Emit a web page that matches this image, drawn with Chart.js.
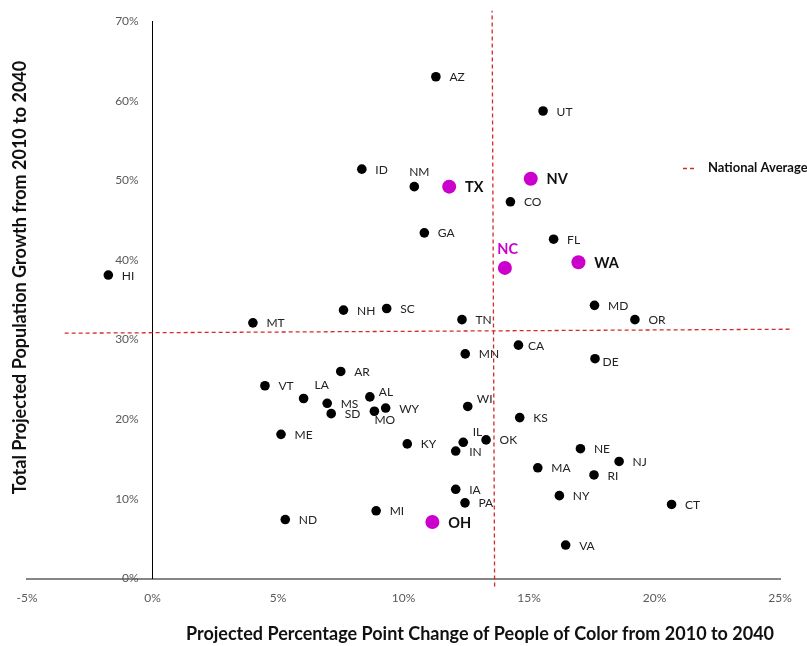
<!DOCTYPE html>
<html><head><meta charset="utf-8">
<script src="https://cdn.jsdelivr.net/npm/chart.js@4"></script>
<style>html,body{margin:0;padding:0;background:#fff}canvas{display:block}</style>
</head><body>
<canvas id="c" width="807" height="646"></canvas>
<script>
// ---- DATA ----
const states = ['AZ','UT','ID','NM','TX','NV','CO','GA','FL','NC','WA','HI','MD','OR','NH','SC','MT','TN','CA','MN','DE','AR','VT','LA','AL','MS','SD','MO','WY','WI','KS','ME','KY','IL','OK','IN','NE','NJ','MA','RI','IA','NY','PA','CT','MI','ND','OH','VA'];
// Projected percentage point change of people of color 2010-2040 (%)
const peopleOfColorChange = [11.29,15.56,8.34,10.43,11.82,15.07,14.26,10.83,15.98,14.04,16.97,-1.76,17.61,19.22,7.61,9.33,4.0,12.33,14.58,12.46,17.63,7.50,4.48,6.02,8.66,6.96,7.12,8.84,9.29,12.56,14.63,5.12,10.15,12.38,13.29,12.08,17.05,18.59,15.35,17.59,12.08,16.21,12.45,20.68,8.91,5.29,11.15,16.46];
// Total projected population growth 2010-2040 (%)
const populationGrowth = [63.0,58.7,51.4,49.2,49.2,50.2,47.3,43.4,42.6,39.0,39.7,38.1,34.3,32.5,33.7,33.9,32.1,32.5,29.3,28.2,27.6,26.0,24.2,22.6,22.8,22.0,20.7,21.0,21.4,21.6,20.2,18.1,16.9,17.1,17.4,16.0,16.3,14.7,13.9,13.0,11.2,10.4,9.5,9.3,8.5,7.4,7.1,4.2];
const highlightStates = ['TX','NV','NC','WA','OH'];
const xTickValues = [-5,0,5,10,15,20,25];
const yTickValues = [0,10,20,30,40,50,60,70];
// National average reference lines (endpoints)
const natAvgVerticalX = [13.63,13.53];
const natAvgVerticalY = [-1.0,71.3];
const natAvgHorizontalX = [-3.5,25.4];
const natAvgHorizontalY = [30.8,31.3];
const xTitle = 'Projected Percentage Point Change of People of Color from 2010 to 2040';
const yTitle = 'Total Projected Population Growth from 2010 to 2040';
const legendLabel = 'National Average';

// ---- STYLE ----
const FONT = 'Lato, "Open Sans", sans-serif';
const MAGENTA = '#cc00cc';
const RED = '#d42a2a';
const labelPlacement = {
  NM:{dx:5,dy:-15,align:'center'},
  LA:{dx:11,dy:-13},
  AL:{dx:9,dy:-4.5},
  MO:{dx:0,dy:9},
  WI:{dx:9,dy:-7},
  IL:{dx:9.4,dy:-10.6},
  DE:{dx:7.6,dy:3.7},
  CA:{dx:9.6,dy:0.7},
  NC:{dx:2.7,dy:-18.7,align:'center'}
};

function pts(filterFn){
  const out = [];
  states.forEach((s,i)=>{ if(filterFn(s)) out.push({x:peopleOfColorChange[i], y:populationGrowth[i], s}); });
  return out;
}
const normalPts = pts(s=>!highlightStates.includes(s));
const hiPts = pts(s=>highlightStates.includes(s));

const stateLabels = {
  id:'stateLabels',
  afterDatasetsDraw(chart){
    const ctx = chart.ctx;
    ctx.save();
    ctx.textBaseline = 'middle';
    chart.data.datasets.forEach((ds,di)=>{
      if(!ds.isStates) return;
      const meta = chart.getDatasetMeta(di);
      meta.data.forEach((el,i)=>{
        const name = ds.data[i].s;
        const hi = ds.highlight;
        const p = labelPlacement[name] || (hi ? {dx:15.8,dy:1} : {dx:13.5,dy:0.7});
        ctx.textAlign = p.align || 'left';
        if(hi){
          ctx.font = 'bold 14.5px ' + FONT;
          ctx.fillStyle = name==='NC' ? MAGENTA : '#111';
        } else {
          ctx.font = '12px ' + FONT;
          ctx.fillStyle = '#222';
        }
        ctx.fillText(name, el.x + p.dx, el.y + p.dy);
      });
    });
    ctx.restore();
  }
};

const decor = {
  id:'decor',
  afterDraw(chart){
    const ctx = chart.ctx;
    ctx.save();
    ctx.fillStyle = '#111';
    ctx.font = 'bold 18px ' + FONT;
    ctx.textAlign = 'center';
    ctx.textBaseline = 'middle';
    ctx.fillText(xTitle, 480, 634);
    ctx.translate(20, 277.5);
    ctx.rotate(-Math.PI/2);
    ctx.fillText(yTitle, 0, 0);
    ctx.restore();
    // legend
    ctx.save();
    ctx.strokeStyle = RED;
    ctx.lineWidth = 1.3;
    ctx.setLineDash([4,3]);
    ctx.beginPath();
    ctx.moveTo(683,168.5); ctx.lineTo(697,168.5); ctx.stroke();
    ctx.setLineDash([]);
    ctx.fillStyle = '#111';
    ctx.font = 'bold 13px ' + FONT;
    ctx.textAlign = 'left';
    ctx.textBaseline = 'middle';
    ctx.fillText(legendLabel, 708, 167.5);
    ctx.restore();
  }
};

const yRange = {min:yTickValues[0], max:yTickValues[yTickValues.length-1]};

new Chart(document.getElementById('c'), {
  type:'scatter',
  data:{
    datasets:[
      {isStates:true, highlight:true, data:hiPts, backgroundColor:MAGENTA, borderColor:MAGENTA, pointRadius:7, pointHoverRadius:7, borderWidth:0},
      {isStates:true, highlight:false, data:normalPts, backgroundColor:'#000', borderColor:'#000', pointRadius:4.8, pointHoverRadius:4.8, borderWidth:0},
      {data:natAvgVerticalX.map((x,i)=>({x, y:natAvgVerticalY[i]})), showLine:true, pointRadius:0, borderColor:RED, borderWidth:1.3, borderDash:[4,3], clip:false},
      {data:natAvgHorizontalX.map((x,i)=>({x, y:natAvgHorizontalY[i]})), showLine:true, pointRadius:0, borderColor:RED, borderWidth:1.3, borderDash:[4,3], clip:false}
    ]
  },
  options:{
    responsive:false,
    devicePixelRatio:1,
    animation:false,
    events:[],
    layout:{padding:{left:27, right:27, top:21, bottom:0}},
    plugins:{legend:{display:false}, tooltip:{enabled:false}},
    scales:{
      x:{
        type:'linear', position:'bottom',
        min:xTickValues[0], max:xTickValues[xTickValues.length-1],
        afterBuildTicks:s=>{ s.ticks = xTickValues.map(v=>({value:v})); },
        afterFit:s=>{ s.height = 67.5; },
        grid:{display:false, drawTicks:false},
        border:{display:true, color:'#868686', width:2},
        ticks:{padding:12, color:'#595959', font:{family:FONT, size:12}, callback:v=>v+'%', maxRotation:0, autoSkip:false}
      },
      // tick labels of the value axis, set just left of the x = 0 line
      y:{
        type:'linear', position:{x:-0.55}, ...yRange,
        afterBuildTicks:s=>{ s.ticks = yTickValues.map(v=>({value:v})); },
        afterFit:s=>{ s.width = 0; },
        grid:{display:false, drawTicks:false},
        border:{display:false},
        ticks:{padding:0, color:'#595959', font:{family:FONT, size:12}, callback:v=>v+'%', autoSkip:false}
      },
      // the value axis line, crossing at x = 0
      yLine:{
        type:'linear', position:{x:0}, ...yRange,
        afterFit:s=>{ s.width = 0; },
        grid:{display:false, drawTicks:false},
        border:{display:true, color:'#000', width:1},
        ticks:{display:false}
      }
    }
  },
  plugins:[stateLabels, decor]
});
</script>
</body></html>
